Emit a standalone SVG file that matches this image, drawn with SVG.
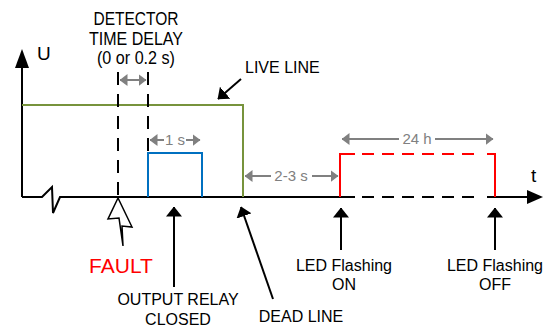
<svg xmlns="http://www.w3.org/2000/svg" width="550" height="327" viewBox="0 0 550 327">
<defs>
<style>
text{font-family:"Liberation Sans",Arial,sans-serif;fill:#000}
.lbl{font-size:16px;text-anchor:middle}
.top{font-size:19px;text-anchor:middle}
.gl{font-size:15px;text-anchor:middle;fill:#808080}
.ax{stroke:#000;stroke-width:2;fill:none}
.dash{stroke:#000;stroke-width:2;fill:none;stroke-dasharray:13 9}
.gray{stroke:#808080;stroke-width:2;fill:none;marker-start:url(#ga);marker-end:url(#ga)}
.ptr{stroke:#000;stroke-width:2;fill:none;marker-end:url(#ba)}
</style>
<marker id="ga" viewBox="0 0 8 12" refX="7.5" refY="6" markerWidth="4" markerHeight="6" orient="auto-start-reverse" markerUnits="strokeWidth"><path d="M0,0 L8,6 L0,12 z" fill="#808080"/></marker>
<marker id="ba" viewBox="0 0 10 16" refX="9.5" refY="8" markerWidth="5" markerHeight="8" orient="auto" markerUnits="strokeWidth"><path d="M0,0 L10,8 L0,16 z" fill="#000"/></marker>
</defs>
<g id="axes">
<path class="ax" d="M22,197 V62"/>
<path d="M15,68 L22,49 L29,68 z" fill="#000"/>
<path class="ax" d="M22,197 H42 L52,187 L53,213 L60,197 H355"/>
<path class="ax" d="M362,197 H482" stroke-dasharray="12 8"/>
<path class="ax" d="M487,197 H530"/>
<path d="M527,190 L543,197 L527,204 z" fill="#000"/>
<text x="37" y="60" style="font-size:19px">U</text>
<text x="531" y="182" style="font-size:19px">t</text>
</g>
<g id="live-line">
<path d="M22,105 H243 V197" fill="none" stroke="#77933C" stroke-width="2"/>
</g>
<g id="output-pulse">
<path d="M148,197 V153 H202 V197" fill="none" stroke="#0070C0" stroke-width="2"/>
</g>
<g id="led-pulse">
<path d="M340,197 V154 H355" fill="none" stroke="#FF0000" stroke-width="2"/>
<path d="M362,154 H482" fill="none" stroke="#FF0000" stroke-width="2" stroke-dasharray="12 8"/>
<path d="M487,154 H495 V197" fill="none" stroke="#FF0000" stroke-width="2"/>
</g>
<g id="detector">
<path class="dash" d="M118,72 V198"/>
<path class="dash" d="M148,72 V153"/>
<text class="top" x="136" y="25" textLength="85" lengthAdjust="spacingAndGlyphs">DETECTOR</text>
<text class="top" x="136" y="45" textLength="94" lengthAdjust="spacingAndGlyphs">TIME DELAY</text>
<text class="top" x="136" y="64" textLength="78" lengthAdjust="spacingAndGlyphs">(0 or 0.2 s)</text>
</g>
<g id="fault">
<path d="M118,198 L108,219 L119,218 L123,246 L122,226 L132,227 Z" fill="#fff" stroke="#000" stroke-width="1.5" stroke-linejoin="miter"/>
<text x="121" y="273" style="font-size:21px;text-anchor:middle;fill:#FF0000">FAULT</text>
</g>
<g id="connectors">
<path class="gray" d="M120,80 H146"/>
<path class="gray" d="M150,140 H164 M186,140 H200"/>
<path class="gray" d="M245,176 H271 M312,176 H338"/>
<path class="gray" d="M342,139 H399 M435,139 H493"/>
<path class="ptr" d="M241,79 L218,99"/>
<path class="ptr" d="M174,287 V207"/>
<path class="ptr" d="M273,299 L241,207"/>
<path class="ptr" d="M341,250 V208"/>
<path class="ptr" d="M495,250 V208"/>
</g>
<g id="labels">
<text class="gl" x="175" y="145">1 s</text>
<text class="gl" x="291" y="181">2-3 s</text>
<text class="gl" x="417" y="144">24 h</text>
<text x="245" y="73" style="font-size:16px">LIVE LINE</text>
<text class="lbl" x="178" y="305">OUTPUT RELAY</text>
<text class="lbl" x="178" y="325">CLOSED</text>
<text class="lbl" x="301" y="322">DEAD LINE</text>
<text class="lbl" x="344" y="271">LED Flashing</text>
<text class="lbl" x="344" y="290">ON</text>
<text class="lbl" x="495" y="271">LED Flashing</text>
<text class="lbl" x="495" y="290">OFF</text>
</g>
</svg>
